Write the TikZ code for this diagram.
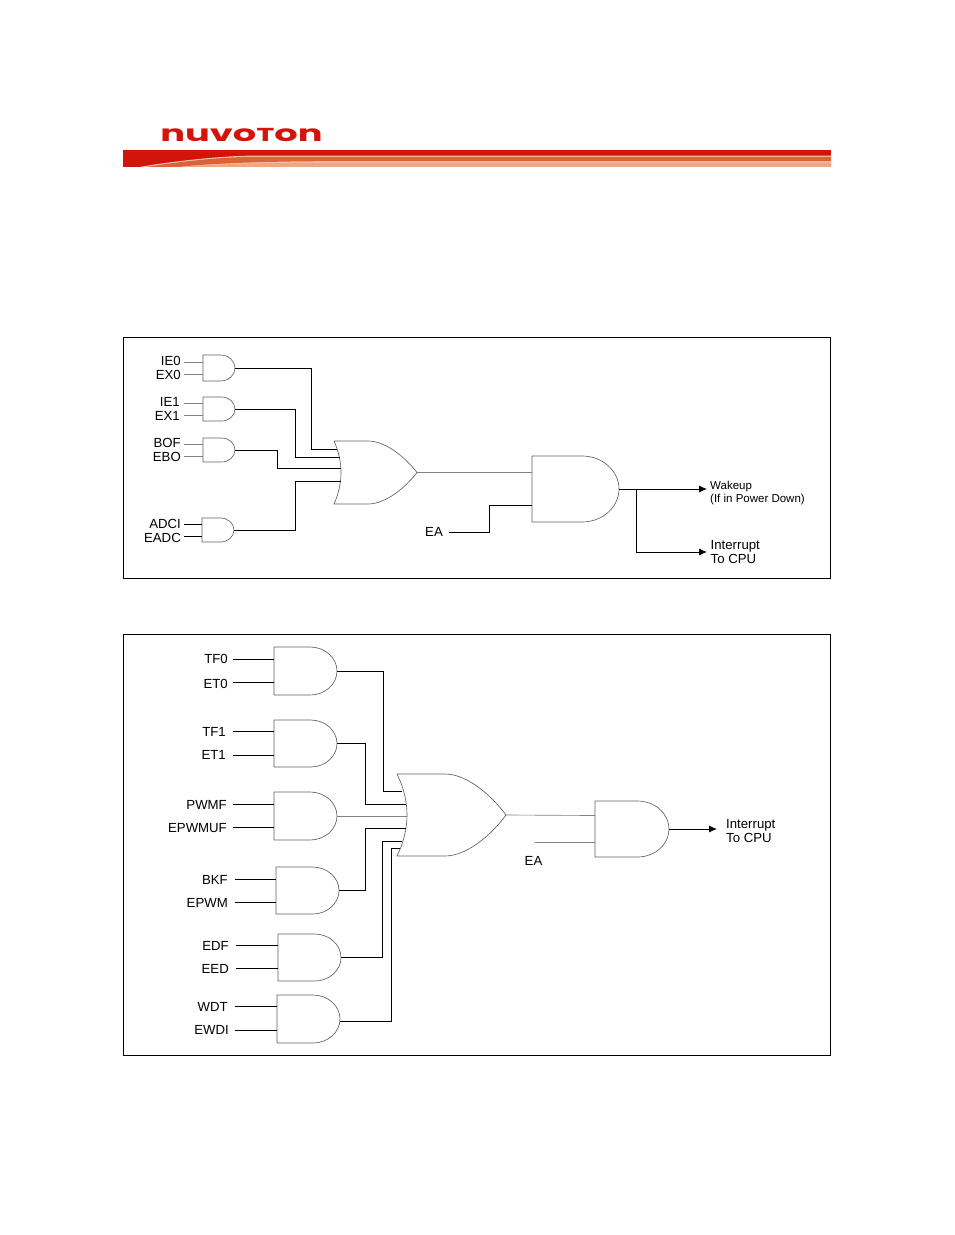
\documentclass[tikz,border=0pt]{standalone}
\usepackage{fontspec}
\setmainfont{Liberation Sans}
\newfontfamily\logofont{Poppins}
\usetikzlibrary{arrows.meta,calc}
\definecolor{nred}{HTML}{D2140A}
\definecolor{norange}{HTML}{DC6238}
\definecolor{nlight}{HTML}{EFA681}
\tikzset{
  frame/.style={draw=black,line width=0.7pt,fill=none},
  gateline/.style={draw=black!62,line width=0.65pt,line join=round},
  wire/.style={draw=black,line width=0.85pt},
  thinwire/.style={draw=black!50,line width=0.65pt},
  arrowwire/.style={wire,-{Latex[length=8pt,width=7pt]}},
  lbl/.style={inner sep=0pt,anchor=east,yshift=-0.6pt,font=\fontsize{13.2}{14}\selectfont},
  outlbl/.style={inner sep=0pt,anchor=west,align=left,font=\fontsize{13.2}{14.5}\selectfont},
  smalllbl/.style={inner sep=0pt,anchor=west,align=left,font=\fontsize{11.5}{13.2}\selectfont},
  gatebox/.style={inner sep=0pt,outer sep=0pt,draw=none}
}
% name, left, top, right, bottom
\newcommand{\andgate}[5]{%
  \pgfmathsetmacro{\gym}{(#3+#5)/2}%
  \pgfmathsetmacro{\gh}{(#5-#3)/2}%
  \pgfmathsetmacro{\grx}{1.12*\gh}%
  \pgfmathsetmacro{\gxs}{#4-\grx}%
  \pgfmathsetmacro{\gca}{\gxs+0.55*\grx}%
  \pgfmathsetmacro{\gcb}{\gym-0.55*\gh}%
  \pgfmathsetmacro{\gcc}{\gym+0.55*\gh}%
  \pgfmathsetmacro{\gw}{#4-#2}%
  \pgfmathsetmacro{\gcx}{(#2+#4)/2}%
  \node[gatebox,minimum width=\gw pt,minimum height=2*\gh pt] (#1) at (\gcx,\gym) {};
  \draw[gateline] (#2,#3) -- (\gxs,#3) .. controls (\gca,#3) and (#4,\gcb) .. (#4,\gym)
     .. controls (#4,\gcc) and (\gca,#5) .. (\gxs,#5) -- (#2,#5) -- cycle;
}
% name, xl, top, bottom, xback(peak), xflat, xtip
\newcommand{\orgate}[7]{%
  \pgfmathsetmacro{\gym}{(#3+#4)/2}%
  \pgfmathsetmacro{\gh}{(#4-#3)/2}%
  \pgfmathsetmacro{\gbc}{#2+(#5-#2)*4/3}%
  \pgfmathsetmacro{\gba}{#3+0.66*\gh}%
  \pgfmathsetmacro{\gbb}{#4-0.66*\gh}%
  \pgfmathsetmacro{\gfa}{#6+0.41*(#7-#6)}%
  \pgfmathsetmacro{\gfb}{#7-0.164*(#7-#6)}%
  \pgfmathsetmacro{\gfc}{\gym-0.34*\gh}%
  \pgfmathsetmacro{\gfd}{\gym+0.34*\gh}%
  \pgfmathsetmacro{\gw}{#7-#2}%
  \pgfmathsetmacro{\gcx}{(#2+#7)/2}%
  \node[gatebox,minimum width=\gw pt,minimum height=2*\gh pt] (#1) at (\gcx,\gym) {};
  \draw[gateline] (#2,#3) -- (#6,#3) .. controls (\gfa,#3) and (\gfb,\gfc) .. (#7,\gym)
     .. controls (\gfb,\gfd) and (\gfa,#4) .. (#6,#4) -- (#2,#4)
     .. controls (\gbc,\gbb) and (\gbc,\gba) .. (#2,#3) -- cycle;
}
% name, text, text right x, text y, wire start x, wire y, gate, style
\newcommand{\inp}[8]{%
  \node[lbl] (#1) at (#3,#4) {#2};
  \coordinate (#1w) at (#5,#6);
  \draw[#8] (#1w) -- (#1w -| #7.west);
}
\begin{document}
\begin{tikzpicture}[x=1pt,y=-1pt]
\useasboundingbox (0,0) rectangle (954,1235);
\fill[white] (0,0) rectangle (954,1235);

% Logo
\node[inner sep=0pt,anchor=center,text=nred] (logo) at (241.5,135.5)
  {\scalebox{2.45}[1.5]{\fontsize{15}{15}\logofont\bfseries nuvo{\fontsize{12.5}{15}\selectfont T}on}};

% Banner
\fill[nred] (123,150) rectangle (831,166.8);
\fill[white!60!norange] (140,166.8) .. controls (175,161) and (215,156.5) .. (250,155.6) -- (831,155.6) -- (831,166.8) -- cycle;
\fill[norange] (147,166.8) .. controls (180,161.5) and (220,157.3) .. (250,156.8) -- (831,156.8) -- (831,161.2) -- (320,161.2) .. controls (260,161.5) and (210,163.5) .. (180,166.8) -- cycle;
\fill[nlight] (186,166.8) .. controls (215,164) and (265,162.6) .. (320,162.6) -- (831,162.6) -- (831,166.8) -- cycle;

% Frames
\node[frame,minimum width=707pt,minimum height=240.5pt,inner sep=0pt] (box1) at (477,457.75) {};
\node[frame,minimum width=707pt,minimum height=421pt,inner sep=0pt] (box2) at (477,845) {};

% ---------- Upper diagram
\andgate{a1}{203}{355}{235}{381}
\andgate{a2}{203}{397}{235}{421}
\andgate{a3}{203}{438}{235}{462}
\andgate{a4}{202}{518}{234}{542}
\orgate{or1}{334}{441}{504}{341}{368}{417}
\andgate{big1}{532}{456}{619}{522}

\inp{ie0}{IE0}{181}{360}{184}{362}{a1}{thinwire}
\inp{ex0}{EX0}{181}{374}{184}{374}{a1}{thinwire}
\inp{ie1}{IE1}{180}{401}{184}{403}{a2}{thinwire}
\inp{ex1}{EX1}{180}{415}{184}{415}{a2}{thinwire}
\inp{bof}{BOF}{181}{442}{184}{444}{a3}{thinwire}
\inp{ebo}{EBO}{181}{456}{184}{456}{a3}{thinwire}
\inp{adci}{ADCI}{181}{523}{184}{524}{a4}{wire}
\inp{eadc}{EADC}{181}{537}{184}{536}{a4}{wire}

\coordinate (o1a) at (337,449);
\coordinate (o1b) at (339.5,457.5);
\coordinate (o1c) at (341,468);
\coordinate (o1d) at (341,481);
\draw[wire] (a1.east) -| (311,449) -- (o1a);
\draw[wire] (a2.east) -| (295,457.5) -- (o1b);
\draw[wire] (a3.east) -| (277,468) -- (o1c);
\draw[wire] (a4.east) -| (295,481) -- (o1d);

\draw[thinwire] (or1.east) -- (or1.east -| big1.west);

\node[lbl,anchor=center] (ea1) at (434,531) {EA};
\coordinate (ea1w) at (449,532);
\coordinate (big1in) at (532,505);
\draw[wire] (ea1w) -| (489,505) -- (big1in);

\coordinate (wk) at (707,489);
\coordinate (ic) at (707,552);
\draw[arrowwire] (big1.east) -- (wk);
\draw[arrowwire] (636,489) |- (ic);
\node[smalllbl] (wakeup) at (710,492.8) {Wakeup\\(If in Power Down)};
\node[outlbl] (int1) at (710.5,552) {Interrupt\\To CPU};

% ---------- Lower diagram
\andgate{b1}{274}{647}{337}{695}
\andgate{b2}{274}{720}{337}{767}
\andgate{b3}{274}{792}{337}{840}
\andgate{b4}{276}{867}{339}{914}
\andgate{b5}{278}{934}{341}{981}
\andgate{b6}{277}{995}{340}{1043}
\orgate{or2}{397}{774}{856}{407}{445}{506}
\andgate{big2}{595}{801}{669}{857}

\inp{tf0}{TF0}{228}{658}{233}{659}{b1}{wire}
\inp{et0}{ET0}{228}{683}{233}{682}{b1}{wire}
\inp{tf1}{TF1}{226}{731}{233}{731}{b2}{wire}
\inp{et1}{ET1}{226}{754}{233}{755}{b2}{wire}
\inp{pwmf}{PWMF}{227}{804}{233}{804}{b3}{wire}
\inp{epwmuf}{EPWMUF}{227}{827}{233}{827}{b3}{wire}
\inp{bkf}{BKF}{228}{879}{235}{879}{b4}{wire}
\inp{epwm}{EPWM}{228}{902}{235}{902}{b4}{wire}
\inp{edf}{EDF}{229}{945}{236}{945}{b5}{wire}
\inp{eed}{EED}{229}{968}{236}{968}{b5}{wire}
\inp{wdt}{WDT}{228}{1006}{235}{1006}{b6}{wire}
\inp{ewdi}{EWDI}{229}{1029}{235}{1030}{b6}{wire}

\coordinate (o2a) at (402,791);
\coordinate (o2b) at (406,804);
\coordinate (o2c) at (407,816);
\coordinate (o2d) at (406,828);
\coordinate (o2e) at (402,841);
\coordinate (o2f) at (400,848.5);
\draw[wire] (b1.east) -| (383.5,791) -- (o2a);
\draw[wire] (b2.east) -| (365.5,804) -- (o2b);
\draw[thinwire] (b3.east) -- (o2c);
\draw[wire] (b4.east) -| (365.5,828) -- (o2d);
\draw[wire] (b5.east) -| (382.5,841) -- (o2e);
\draw[wire] (b6.east) ++(0,2) -| (391.3,848.5) -- (o2f);

\draw[thinwire] (or2.east) -- (big2.west |- 0,815.5);
\node[lbl,anchor=center] (ea2) at (533.5,860) {EA};
\coordinate (ea2w) at (535,842.5);
\draw[thinwire] (ea2w) -- (ea2w -| big2.west);

\coordinate (ic2) at (717,829);
\draw[arrowwire] (big2.east) -- (ic2);
\node[outlbl] (int2) at (726,831) {Interrupt\\To CPU};
\end{tikzpicture}
\end{document}
